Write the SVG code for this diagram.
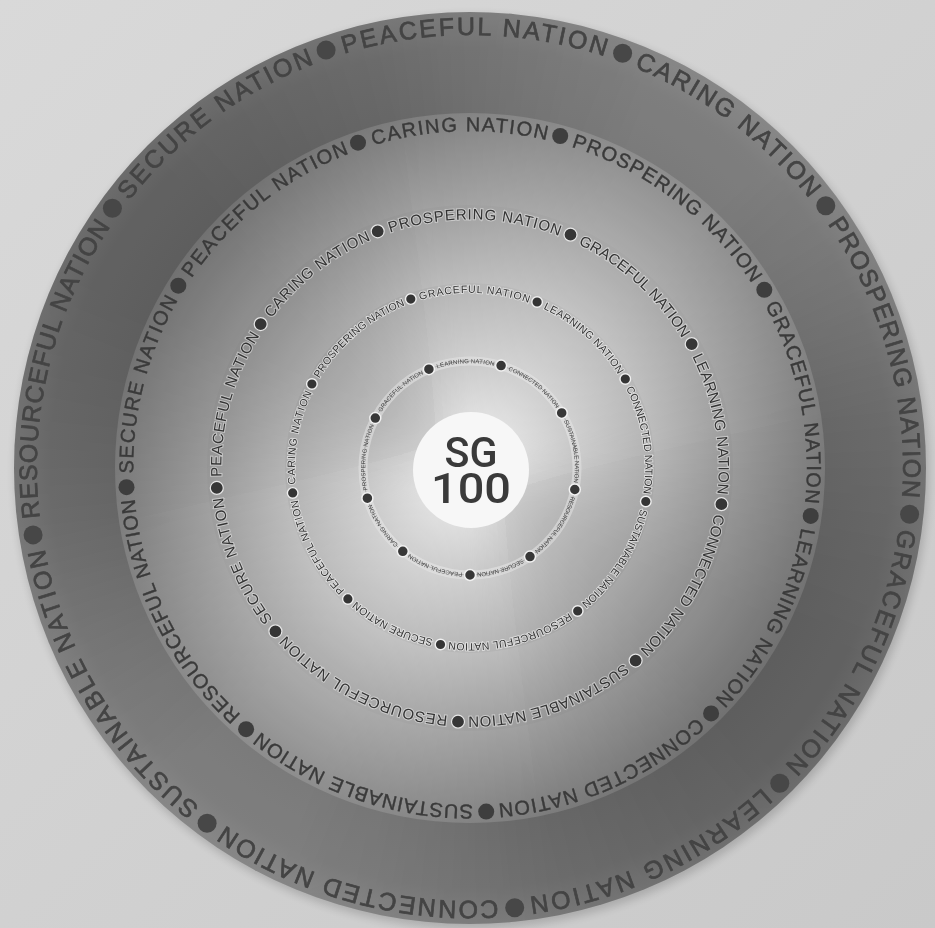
<svg xmlns="http://www.w3.org/2000/svg" width="935" height="928" viewBox="0 0 935 928">
<defs>
  <linearGradient id="bg" x1="0" y1="0" x2="1" y2="1">
    <stop offset="0" stop-color="#d9d9d9"/>
    <stop offset="1" stop-color="#c9c9c9"/>
  </linearGradient>
  <radialGradient id="g1" gradientUnits="userSpaceOnUse" cx="470" cy="468" r="456">
    <stop offset="0.76" stop-color="#686868"/>
    <stop offset="0.92" stop-color="#6d6d6d"/>
    <stop offset="1" stop-color="#787878"/>
  </radialGradient>
  <radialGradient id="g2" gradientUnits="userSpaceOnUse" cx="470" cy="468" r="355">
    <stop offset="0.741" stop-color="#a0a0a0"/>
    <stop offset="1" stop-color="#7e7e7e"/>
  </radialGradient>
  <radialGradient id="g3" gradientUnits="userSpaceOnUse" cx="470" cy="468" r="263">
    <stop offset="0.703" stop-color="#bbbbbb"/>
    <stop offset="1" stop-color="#9c9c9c"/>
  </radialGradient>
  <radialGradient id="g4" gradientUnits="userSpaceOnUse" cx="470" cy="468" r="185">
    <stop offset="0.6" stop-color="#cdcdcd"/>
    <stop offset="1" stop-color="#b3b3b3"/>
  </radialGradient>
  <radialGradient id="g5" gradientUnits="userSpaceOnUse" cx="470" cy="468" r="111">
    <stop offset="0.52" stop-color="#dcdcdc"/>
    <stop offset="1" stop-color="#c6c6c6"/>
  </radialGradient>
  <filter id="blur" filterUnits="userSpaceOnUse" x="-40" y="-40" width="1020" height="1010">
    <feGaussianBlur stdDeviation="18"/>
  </filter>
  <filter id="soft" x="-10%" y="-10%" width="120%" height="120%">
    <feGaussianBlur stdDeviation="4"/>
  </filter>
  <clipPath id="discClip">
    <circle cx="470" cy="468" r="456"/>
  </clipPath>
  <path id="p1" d="M470,35 A433,433 0 1 1 470,901 A433,433 0 1 1 470,35 A433,433 0 1 1 470,901 A433,433 0 1 1 470,35"/>
  <path id="p2" d="M470,131.2 A336.8,336.8 0 1 1 470,804.8 A336.8,336.8 0 1 1 470,131.2 A336.8,336.8 0 1 1 470,804.8 A336.8,336.8 0 1 1 470,131.2"/>
  <path id="p3" d="M470,219.4 A248.6,248.6 0 1 1 470,716.6 A248.6,248.6 0 1 1 470,219.4 A248.6,248.6 0 1 1 470,716.6 A248.6,248.6 0 1 1 470,219.4"/>
  <path id="p4" d="M470,292.8 A175.2,175.2 0 1 1 470,643.2 A175.2,175.2 0 1 1 470,292.8 A175.2,175.2 0 1 1 470,643.2 A175.2,175.2 0 1 1 470,292.8"/>
  <path id="p5" d="M470,363.16 A104.84,104.84 0 1 1 470,572.84 A104.84,104.84 0 1 1 470,363.16 A104.84,104.84 0 1 1 470,572.84 A104.84,104.84 0 1 1 470,363.16"/>
</defs>
<style>
  text { font-family: "Liberation Sans", Arial, sans-serif; text-anchor: middle; }
  .t1 { font-size: 25px; fill: #444444; stroke: #444444; stroke-width: 0.7; }
  .t2 { font-size: 20px; fill: #3a3a3a; stroke: #3a3a3a; stroke-width: 0.4; }
  .t3 { font-size: 15px; fill: #333333; stroke: rgba(235,235,235,0.55); stroke-width: 2; paint-order: stroke; }
  .t4 { font-size: 10.5px; fill: #333333; stroke: rgba(240,240,240,0.7); stroke-width: 1.8; paint-order: stroke; }
  .t5 { font-size: 6px; fill: #444444; }
  .d1 { fill: #474747; }
  .d2 { fill: #3e3e3e; }
  .d3 { fill: #363636; stroke: #e6e6e6; stroke-width: 1.2; }
  .d4 { fill: #353535; stroke: #f0f0f0; stroke-width: 1.4; }
  .d5 { fill: #383838; stroke: #f2f2f2; stroke-width: 1.5; }
  .w { fill: #ffffff; opacity: 0.027; }
  .k { fill: #000000; opacity: 0.022; }
  .sg { font-family: Roboto, "Liberation Sans", Arial, sans-serif; font-weight: 500; font-size: 42px; fill: #3a3a3a; }
</style>

<rect x="0" y="0" width="935" height="928" fill="url(#bg)"/>

<g id="disc">
  <circle cx="472" cy="472" r="457" fill="#000" opacity="0.16" filter="url(#soft)"/>
  <circle cx="470" cy="468" r="456" fill="url(#g1)"/>
  <circle cx="470" cy="468" r="355" fill="url(#g2)"/>
  <circle cx="470" cy="468" r="263" fill="url(#g3)"/>
  <circle cx="470" cy="468" r="185" fill="url(#g4)"/>
  <circle cx="470" cy="468" r="111" fill="url(#g5)"/>
  <g id="sheen" clip-path="url(#discClip)">
    <g filter="url(#blur)">
      <path class="w" d="M470,468 L410.7,-8.3 A480,480 0 0 1 937.9,360.8 Z"/>
      <path class="w" d="M470,468 L459.1,-11.9 A480,480 0 0 1 924.7,314.1 Z"/>
      <path class="w" d="M470,468 L511.9,-10.2 A480,480 0 0 1 905,265.2 Z"/>
      <path class="w" d="M470,468 L571.4,-1.2 A480,480 0 0 1 876.2,212.2 Z"/>
      <path class="w" d="M470,468 L650.6,23.3 A480,480 0 0 1 826.2,146.2 Z"/>
      <path class="w" d="M470,468 L529.3,944.3 A480,480 0 0 1 2.1,575.2 Z"/>
      <path class="w" d="M470,468 L480.9,947.9 A480,480 0 0 1 15.3,621.9 Z"/>
      <path class="w" d="M470,468 L428.1,946.2 A480,480 0 0 1 35,670.8 Z"/>
      <path class="w" d="M470,468 L368.6,937.2 A480,480 0 0 1 63.8,723.8 Z"/>
      <path class="w" d="M470,468 L289.4,912.7 A480,480 0 0 1 113.8,789.8 Z"/>
      <path class="k" d="M470,468 L946.3,408.7 A480,480 0 0 1 577.2,935.9 Z"/>
      <path class="k" d="M470,468 L949.9,457.1 A480,480 0 0 1 623.9,922.7 Z"/>
      <path class="k" d="M470,468 L948.2,509.9 A480,480 0 0 1 672.8,903 Z"/>
      <path class="k" d="M470,468 L939.2,569.4 A480,480 0 0 1 725.8,874.2 Z"/>
      <path class="k" d="M470,468 L914.7,648.6 A480,480 0 0 1 791.8,824.2 Z"/>
      <path class="k" d="M470,468 L-6.3,527.3 A480,480 0 0 1 362.8,0.1 Z"/>
      <path class="k" d="M470,468 L-9.9,478.9 A480,480 0 0 1 316.1,13.3 Z"/>
      <path class="k" d="M470,468 L-8.2,426.1 A480,480 0 0 1 267.2,33 Z"/>
      <path class="k" d="M470,468 L0.8,366.6 A480,480 0 0 1 214.2,61.8 Z"/>
      <path class="k" d="M470,468 L25.3,287.4 A480,480 0 0 1 148.2,111.8 Z"/>
    </g>
  </g>
  <circle cx="470" cy="468" r="107" fill="none" stroke="#ececec" stroke-width="9" opacity="0.5"/>
  <circle cx="470" cy="468" r="107" fill="none" stroke="#7a7a7a" stroke-width="0.8" opacity="0.6"/>
</g>

<g id="ring1">
  <text class="t1"><textPath href="#p1" startOffset="2725.1" textLength="264.9" lengthAdjust="spacing">PEACEFUL NATION</textPath></text>
  <text class="t1"><textPath href="#p1" startOffset="2999.4" textLength="221.0" lengthAdjust="spacing">CARING NATION</textPath></text>
  <text class="t1"><textPath href="#p1" startOffset="3285.8" textLength="289.1" lengthAdjust="spacing">PROSPERING NATION</textPath></text>
  <text class="t1"><textPath href="#p1" startOffset="874.7" textLength="267.1" lengthAdjust="spacing">GRACEFUL NATION</textPath></text>
  <text class="t1"><textPath href="#p1" startOffset="1170.2" textLength="261.1" lengthAdjust="spacing">LEARNING NATION</textPath></text>
  <text class="t1"><textPath href="#p1" startOffset="1476.3" textLength="288.3" lengthAdjust="spacing">CONNECTED NATION</textPath></text>
  <text class="t1"><textPath href="#p1" startOffset="1805.4" textLength="307.2" lengthAdjust="spacing">SUSTAINABLE NATION</textPath></text>
  <text class="t1"><textPath href="#p1" startOffset="2143.6" textLength="306.4" lengthAdjust="spacing">RESOURCEFUL NATION</textPath></text>
  <text class="t1"><textPath href="#p1" startOffset="2444.7" textLength="233.1" lengthAdjust="spacing">SECURE NATION</textPath></text>
  <circle class="d1" cx="622.6" cy="53.2" r="9.5"/>
  <circle class="d1" cx="825.8" cy="205.7" r="9.5"/>
  <circle class="d1" cx="909.6" cy="514.2" r="9.5"/>
  <circle class="d1" cx="779.8" cy="783.3" r="9.5"/>
  <circle class="d1" cx="514.7" cy="907.7" r="9.5"/>
  <circle class="d1" cx="207.1" cy="823.3" r="9.5"/>
  <circle class="d1" cx="33.1" cy="534.9" r="9.5"/>
  <circle class="d1" cx="112.4" cy="208.2" r="9.5"/>
  <circle class="d1" cx="326.1" cy="50.1" r="9.5"/>
</g>

<g id="ring2">
  <text class="t2"><textPath href="#p2" startOffset="2104.9" textLength="175.6" lengthAdjust="spacing">CARING NATION</textPath></text>
  <text class="t2"><textPath href="#p2" startOffset="2333.6" textLength="230.8" lengthAdjust="spacing">PROSPERING NATION</textPath></text>
  <text class="t2"><textPath href="#p2" startOffset="2576.9" textLength="205.0" lengthAdjust="spacing">GRACEFUL NATION</textPath></text>
  <text class="t2"><textPath href="#p2" startOffset="686.3" textLength="195.0" lengthAdjust="spacing">LEARNING NATION</textPath></text>
  <text class="t2"><textPath href="#p2" startOffset="919.3" textLength="220.2" lengthAdjust="spacing">CONNECTED NATION</textPath></text>
  <text class="t2"><textPath href="#p2" startOffset="1169.4" textLength="229.1" lengthAdjust="spacing">SUSTAINABLE NATION</textPath></text>
  <text class="t2"><textPath href="#p2" startOffset="1432.5" textLength="246.1" lengthAdjust="spacing">RESOURCEFUL NATION</textPath></text>
  <text class="t2"><textPath href="#p2" startOffset="1671.7" textLength="181.5" lengthAdjust="spacing">SECURE NATION</textPath></text>
  <text class="t2"><textPath href="#p2" startOffset="1889.8" textLength="203.8" lengthAdjust="spacing">PEACEFUL NATION</textPath></text>
  <circle class="d2" cx="560.2" cy="136.0" r="8"/>
  <circle class="d2" cx="764.3" cy="289.8" r="8"/>
  <circle class="d2" cx="810.7" cy="515.9" r="8"/>
  <circle class="d2" cx="711.1" cy="713.4" r="8"/>
  <circle class="d2" cx="486.2" cy="811.6" r="8"/>
  <circle class="d2" cx="246.1" cy="729.2" r="8"/>
  <circle class="d2" cx="126.5" cy="487.2" r="8"/>
  <circle class="d2" cx="178.3" cy="285.7" r="8"/>
  <circle class="d2" cx="358.0" cy="142.7" r="8"/>
</g>

<g id="ring3">
  <text class="t3"><textPath href="#p3" startOffset="1566.3" textLength="172.9" lengthAdjust="spacing">PROSPERING NATION</textPath></text>
  <text class="t3"><textPath href="#p3" startOffset="1744.4" textLength="142.1" lengthAdjust="spacing">GRACEFUL NATION</textPath></text>
  <text class="t3"><textPath href="#p3" startOffset="1906.9" textLength="141.7" lengthAdjust="spacing">LEARNING NATION</textPath></text>
  <text class="t3"><textPath href="#p3" startOffset="515.2" textLength="157.7" lengthAdjust="spacing">CONNECTED NATION</textPath></text>
  <text class="t3"><textPath href="#p3" startOffset="698.6" textLength="167.7" lengthAdjust="spacing">SUSTAINABLE NATION</textPath></text>
  <text class="t3"><textPath href="#p3" startOffset="895.3" textLength="184.7" lengthAdjust="spacing">RESOURCEFUL NATION</textPath></text>
  <text class="t3"><textPath href="#p3" startOffset="1075.0" textLength="133.5" lengthAdjust="spacing">SECURE NATION</textPath></text>
  <text class="t3"><textPath href="#p3" startOffset="1236.6" textLength="148.6" lengthAdjust="spacing">PEACEFUL NATION</textPath></text>
  <text class="t3"><textPath href="#p3" startOffset="1395.4" textLength="127.8" lengthAdjust="spacing">CARING NATION</textPath></text>
  <circle class="d3" cx="570.5" cy="234.7" r="6.5"/>
  <circle class="d3" cx="691.7" cy="344.1" r="6.5"/>
  <circle class="d3" cx="721.4" cy="504.2" r="6.5"/>
  <circle class="d3" cx="635.6" cy="660.6" r="6.5"/>
  <circle class="d3" cx="458.0" cy="721.7" r="6.5"/>
  <circle class="d3" cx="275.4" cy="631.3" r="6.5"/>
  <circle class="d3" cx="216.8" cy="487.9" r="6.5"/>
  <circle class="d3" cx="260.7" cy="324.1" r="6.5"/>
  <circle class="d3" cx="377.7" cy="231.3" r="6.5"/>
</g>

<g id="ring4">
  <text class="t4"><textPath href="#p4" startOffset="1104.9" textLength="110.5" lengthAdjust="spacing">GRACEFUL NATION</textPath></text>
  <text class="t4"><textPath href="#p4" startOffset="1226.5" textLength="101.1" lengthAdjust="spacing">LEARNING NATION</textPath></text>
  <text class="t4"><textPath href="#p4" startOffset="1347.0" textLength="108.4" lengthAdjust="spacing">CONNECTED NATION</textPath></text>
  <text class="t4"><textPath href="#p4" startOffset="372.8" textLength="113.3" lengthAdjust="spacing">SUSTAINABLE NATION</textPath></text>
  <text class="t4"><textPath href="#p4" startOffset="508.4" textLength="126.4" lengthAdjust="spacing">RESOURCEFUL NATION</textPath></text>
  <text class="t4"><textPath href="#p4" startOffset="630.7" textLength="86.7" lengthAdjust="spacing">SECURE NATION</textPath></text>
  <text class="t4"><textPath href="#p4" startOffset="741.5" textLength="103.5" lengthAdjust="spacing">PEACEFUL NATION</textPath></text>
  <text class="t4"><textPath href="#p4" startOffset="856.2" textLength="94.3" lengthAdjust="spacing">CARING NATION</textPath></text>
  <text class="t4"><textPath href="#p4" startOffset="976.5" textLength="114.8" lengthAdjust="spacing">PROSPERING NATION</textPath></text>
  <circle class="d4" cx="410.8" cy="299.1" r="5.3"/>
  <circle class="d4" cx="537.1" cy="302.0" r="5.3"/>
  <circle class="d4" cx="625.3" cy="379.0" r="5.3"/>
  <circle class="d4" cx="645.8" cy="501.5" r="5.3"/>
  <circle class="d4" cx="577.7" cy="611.0" r="5.3"/>
  <circle class="d4" cx="440.5" cy="644.5" r="5.3"/>
  <circle class="d4" cx="347.9" cy="598.9" r="5.3"/>
  <circle class="d4" cx="292.7" cy="492.9" r="5.3"/>
  <circle class="d4" cx="311.9" cy="384.0" r="5.3"/>
</g>

<g id="ring5">
  <text class="t5"><textPath href="#p5" startOffset="653.5" textLength="57.6" lengthAdjust="spacing">LEARNING NATION</textPath></text>
  <text class="t5"><textPath href="#p5" startOffset="728.2" textLength="62.3" lengthAdjust="spacing">CONNECTED NATION</textPath></text>
  <text class="t5"><textPath href="#p5" startOffset="805.6" textLength="63.3" lengthAdjust="spacing">SUSTAINABLE NATION</textPath></text>
  <text class="t5"><textPath href="#p5" startOffset="226.4" textLength="66.4" lengthAdjust="spacing">RESOURCEFUL NATION</textPath></text>
  <text class="t5"><textPath href="#p5" startOffset="298.2" textLength="47.7" lengthAdjust="spacing">SECURE NATION</textPath></text>
  <text class="t5"><textPath href="#p5" startOffset="365.0" textLength="56.5" lengthAdjust="spacing">PEACEFUL NATION</textPath></text>
  <text class="t5"><textPath href="#p5" startOffset="432.3" textLength="48.8" lengthAdjust="spacing">CARING NATION</textPath></text>
  <text class="t5"><textPath href="#p5" startOffset="504.5" textLength="66.2" lengthAdjust="spacing">PROSPERING NATION</textPath></text>
  <text class="t5"><textPath href="#p5" startOffset="581.1" textLength="57.8" lengthAdjust="spacing">GRACEFUL NATION</textPath></text>
  <circle class="d5" cx="501.1" cy="365.6" r="5.5"/>
  <circle class="d5" cx="561.7" cy="412.9" r="5.5"/>
  <circle class="d5" cx="574.8" cy="489.5" r="5.5"/>
  <circle class="d5" cx="530.0" cy="556.6" r="5.5"/>
  <circle class="d5" cx="470.0" cy="575.0" r="5.5"/>
  <circle class="d5" cx="402.8" cy="551.3" r="5.5"/>
  <circle class="d5" cx="367.4" cy="498.2" r="5.5"/>
  <circle class="d5" cx="375.3" cy="418.1" r="5.5"/>
  <circle class="d5" cx="428.9" cy="369.2" r="5.5"/>
</g>

<g id="center">
  <circle cx="471" cy="470" r="58" fill="#f7f7f7"/>
  <text class="sg" x="471" y="467" textLength="53" lengthAdjust="spacingAndGlyphs">SG</text>
  <text class="sg" x="471" y="503" textLength="80" lengthAdjust="spacingAndGlyphs">100</text>
</g>
</svg>
